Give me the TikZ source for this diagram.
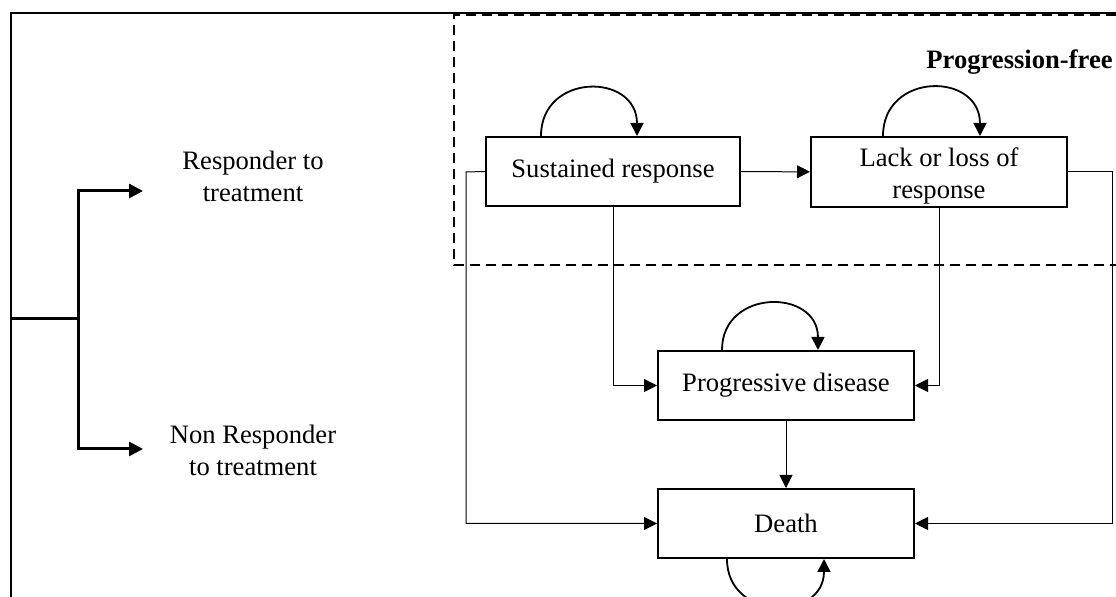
\documentclass[tikz,border=0pt]{standalone}
\usepackage{fontspec}
\setmainfont{Liberation Serif}
\usepackage{tikz}
\usetikzlibrary{arrows.meta,positioning,calc}

\begin{document}
\begin{tikzpicture}[x=0.5pt, y=-0.5pt,
    every node/.style={font=\fontsize{13.3}{16}\selectfont},
    stbox/.style={draw, line width=1pt, minimum width=127pt, minimum height=34.5pt, align=center, inner sep=2pt},
    flow/.style={-{Triangle[length=6.5pt,width=6.5pt]}, line width=0.5pt},
    selfloop/.style={-{Triangle[length=6.5pt,width=6.5pt]}, line width=0.9pt},
    branch/.style={-{Triangle[length=7pt,width=7pt]}, line width=1.5pt}]
    \useasboundingbox (0,0) rectangle (1116,597);
    % outer frame and progression-free region
    \draw[line width=1pt] (11,597) -- (11,13) -- (1116,13);
    \draw[line width=0.9pt, dash pattern=on 5pt off 3pt] (1116,15) -- (454,15) -- (454,265) -- (1116,265);
    \node[font=\fontsize{13.3}{16}\selectfont\bfseries, anchor=east, inner sep=0pt] (pfree) at (1113,62) {Progression-free};
    % left branch
    \coordinate (root) at (11,319);
    \coordinate (fork) at (78,319);
    \coordinate (rtip) at (143,191);
    \coordinate (ntip) at (143,449);
    \node[align=center] (resp) at (253,176) {Responder to\\treatment};
    \node[align=center] (nonresp) at (253,450) {Non Responder\\to treatment};
    \draw[branch] (root) -- (fork) |- (rtip);
    \draw[branch] (fork) |- (ntip);
    % states
    \node[stbox, minimum height=34.5pt] (sust) at (613,171.5) {Sustained response};
    \node[stbox, minimum width=128pt, minimum height=35pt, inner ysep=0pt] (lack) at (939,172) {\parbox[c][29pt][b]{120pt}{\centering Lack or loss of\\response}};
    \node[stbox, minimum width=128pt] (prog) at (786,385.5) {Progressive disease};
    \node[stbox, minimum width=128pt] (death) at (786,523.5) {Death};
    \coordinate (lturn) at (466,172);
    \coordinate (rturn) at (1112,172);
    % transitions
    \draw[flow] (sust) -- (lack);
    \draw[flow] (sust.south) |- (prog.west);
    \draw[flow] (lack.south) |- (prog.east);
    \draw[flow] (prog) -- (death);
    \draw[flow] (sust.west) -- (lturn) |- (death.west);
    \draw[flow] (lack.east) -- (rturn) |- (death.east);
    % self loops
    \draw[selfloop] ($(sust.north)+(-72,0)$) to[out=90,in=90,looseness=1.7] ($(sust.north)+(24,0)$);
    \draw[selfloop] ($(lack.north)+(-56,0)$) to[out=90,in=90,looseness=1.7] ($(lack.north)+(41,0)$);
    \draw[selfloop] ($(prog.north)+(-64,0)$) to[out=90,in=90,looseness=1.65] ($(prog.north)+(32,0)$);
    \draw[selfloop] ($(death.south)+(-59,0)$) to[out=-90,in=-90,looseness=1.65] ($(death.south)+(38,0)$);
\end{tikzpicture}
\end{document}
